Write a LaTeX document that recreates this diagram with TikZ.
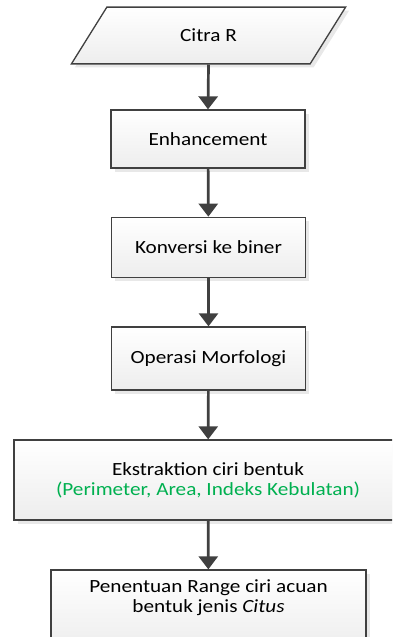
\documentclass[tikz,border=0pt]{standalone}
\usepackage{fontspec}
\setmainfont{Carlito}[FakeStretch=1.14]
\usetikzlibrary{arrows.meta,shapes.geometric,shadows}
\definecolor{linegray}{HTML}{404040}
\definecolor{officegreen}{HTML}{00B050}

\begin{document}
\begin{tikzpicture}[x=1pt, y=-1pt, >={Triangle[width=19pt,length=13pt]},
      font=\fontsize{18.6}{20}\selectfont,
      step box/.style={draw=linegray, line width=1.3pt, top color=white, bottom color=gray!14,
        minimum width=194pt, align=center, inner sep=2pt,
        drop shadow={shadow xshift=3.5pt, shadow yshift=-3.5pt, fill=gray!18, opacity=1}},
      flow/.style={->, draw=linegray, fill=linegray, line width=2.7pt}]
      \useasboundingbox (0,0) rectangle (392,637);
      \clip (0,0) rectangle (392,637);
      \node[step box, trapezium, trapezium left angle=58, trapezium right angle=122,
        minimum width=275pt, minimum height=51pt] (citra) at (208.5,35.5) {Citra R};
      \node[step box, minimum height=58pt] (enh) at (208,139) {Enhancement};
      \node[step box, minimum height=60pt] (konv) at (208.5,247.3) {Konversi ke biner};
      \node[step box, minimum height=63pt] (morf) at (208.5,358.5) {Operasi Morfologi};
      \node[step box, minimum width=388pt, minimum height=80pt] (ciri) at (208,480)
        {Ekstraktion ciri bentuk\\\textcolor{officegreen}{(Perimeter, Area, Indeks Kebulatan)}};
      \node[step box, minimum width=315pt, minimum height=80pt, text depth=28pt] (range) at (208.5,610)
        {Penentuan Range ciri acuan\\bentuk jenis \textit{Citus}};
      \draw[flow] (citra.south) -- (enh.north);
      \draw[flow] (enh) -- (konv);
      \draw[flow] (konv) -- (morf);
      \draw[flow] (morf) -- (ciri);
      \draw[flow] (ciri) -- (range);
    \end{tikzpicture}
\end{document}
